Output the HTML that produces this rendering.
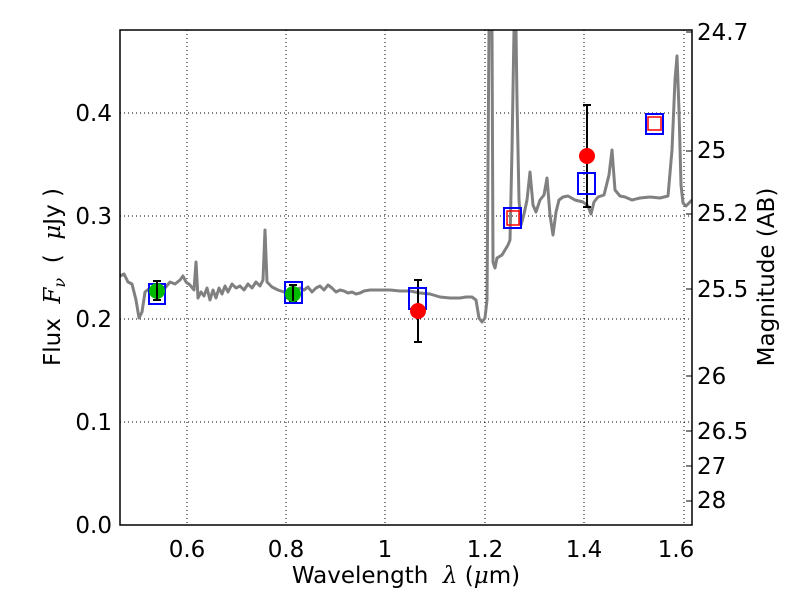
<!DOCTYPE html>
<html><head><meta charset="utf-8"><style>
body{margin:0;background:#fff}
svg text{font-family:"DejaVu Sans","Liberation Sans",sans-serif;fill:#000}
</style></head><body>
<svg width="800" height="600" xmlns="http://www.w3.org/2000/svg">
<rect width="800" height="600" fill="#fff"/>
<defs><clipPath id="c"><rect x="120" y="30" width="572" height="495"/></clipPath></defs>
<g stroke="#000" stroke-width="1" stroke-dasharray="1,3" fill="none">
<line x1="187" y1="30" x2="187" y2="525"/><line x1="286" y1="30" x2="286" y2="525"/>
<line x1="385" y1="30" x2="385" y2="525"/><line x1="485" y1="30" x2="485" y2="525"/>
<line x1="584" y1="30" x2="584" y2="525"/><line x1="684" y1="30" x2="684" y2="525"/>
<line x1="120" y1="422" x2="692" y2="422"/><line x1="120" y1="319" x2="692" y2="319"/>
<line x1="120" y1="216" x2="692" y2="216"/><line x1="120" y1="113" x2="692" y2="113"/>
</g>
<g clip-path="url(#c)">
<polyline fill="none" stroke="#808080" stroke-width="3" stroke-linejoin="round" points="120,276 124,274 128,282 132,284 136,300 139,318 142,312 145,292 150,288 155,290 160,286 165,288 170,282 175,284 180,280 183,276 186,282 190,285 194,290 196,262 198,298 201,292 204,296 207,288 210,300 213,290 216,298 219,288 222,294 225,286 228,292 232,284 236,288 240,286 244,290 248,284 252,288 256,282 260,286 263,280 265,230 267,282 272,287 278,290 284,292 290,290 293,302 296,290 300,288 304,290 308,287 312,292 316,288 320,286 324,290 328,285 332,288 336,292 340,290 344,291 348,293 352,292 356,294 360,293 364,291 370,290 380,290 390,290 400,291 410,291 420,293 430,294 440,297 450,298 460,298 466,297 472,297 476,300 479,318 482,322 485,318 487,300 489,30 491,30 492,30 493,262 495,268 497,258 502,255 505,250 508,245 510,240 512,150 514,30 516,30 517,100 519,200 521,225 524,214 527,200 530,172 533,205 536,212 540,200 544,195 547,178 550,215 553,235 556,212 559,200 563,197 568,196 575,200 583,202 588,206 591,214 594,202 598,197 604,195 609,175 612,150 615,190 620,196 625,197 632,200 640,198 650,197 660,198 668,196 672,150 675,80 677,56 679,110 681,185 683,203 686,206 690,202 692,200"/>
</g>
<g stroke="#000" stroke-width="2">
<line x1="157" y1="281" x2="157" y2="300"/><line x1="153" y1="281" x2="161" y2="281"/><line x1="153" y1="300" x2="161" y2="300"/>
<line x1="293" y1="285" x2="293" y2="301"/><line x1="289" y1="285" x2="297" y2="285"/><line x1="289" y1="301" x2="297" y2="301"/>
<line x1="418" y1="280" x2="418" y2="342"/><line x1="414" y1="280" x2="422" y2="280"/><line x1="414" y1="342" x2="422" y2="342"/>
<line x1="587" y1="105" x2="587" y2="207"/><line x1="583" y1="105" x2="591" y2="105"/><line x1="583" y1="207" x2="591" y2="207"/>
</g>
<g fill="none" stroke="#0000ff" stroke-width="2">
<rect x="149" y="284" width="16" height="20"/><rect x="285" y="282" width="17" height="21"/>
<rect x="409" y="288" width="17" height="21"/><rect x="504" y="208" width="17" height="20"/>
<rect x="578" y="173" width="17" height="21"/><rect x="646" y="114" width="17" height="20"/>
</g>
<g fill="none" stroke="#ff0000" stroke-width="1.5">
<rect x="507" y="211" width="12" height="14"/><rect x="648" y="117" width="13" height="13"/>
</g>
<circle cx="157" cy="291" r="8" fill="#00bb00"/><circle cx="293" cy="294" r="8" fill="#00bb00"/>
<circle cx="418" cy="311" r="8" fill="#ff0000"/><circle cx="587" cy="156" r="8" fill="#ff0000"/>
<g stroke="#000" stroke-width="2">
<line x1="157" y1="281" x2="157" y2="300"/><line x1="293" y1="285" x2="293" y2="301"/>
</g>
<rect x="120" y="30" width="572" height="495" fill="none" stroke="#000" stroke-width="1.5"/>
<g stroke="#000" stroke-width="1">
<line x1="692" y1="32" x2="686" y2="32"/><line x1="692" y1="151" x2="686" y2="151"/>
<line x1="692" y1="214" x2="686" y2="214"/><line x1="692" y1="289" x2="686" y2="289"/>
<line x1="692" y1="376" x2="686" y2="376"/><line x1="692" y1="431" x2="686" y2="431"/>
<line x1="692" y1="466" x2="686" y2="466"/><line x1="692" y1="501" x2="686" y2="501"/>
</g>
<g font-size="23" text-anchor="middle">
<text x="187" y="557">0.6</text><text x="286" y="557">0.8</text><text x="385" y="557">1</text>
<text x="485" y="557">1.2</text><text x="584" y="557">1.4</text><text x="676" y="557">1.6</text>
</g>
<g font-size="23" text-anchor="end">
<text x="112" y="533">0.0</text><text x="112" y="430">0.1</text><text x="112" y="327">0.2</text>
<text x="112" y="224">0.3</text><text x="112" y="121">0.4</text>
</g>
<g font-size="23">
<text x="697" y="40">24.7</text><text x="697" y="158">25</text><text x="697" y="221">25.2</text>
<text x="697" y="297">25.5</text><text x="697" y="384">26</text><text x="697" y="439">26.5</text>
<text x="697" y="474">27</text><text x="697" y="508">28</text>
</g>
<text x="406" y="583" font-size="23" text-anchor="middle" xml:space="preserve">Wavelength  <tspan font-style="italic" font-family="DejaVu Serif,serif">λ</tspan> (<tspan font-style="italic" font-family="DejaVu Serif,serif">μ</tspan>m)</text>
<text transform="translate(60,277) rotate(-90)" font-size="23" text-anchor="middle" xml:space="preserve">Flux  <tspan font-style="italic" font-family="DejaVu Serif,serif">F</tspan><tspan font-style="italic" font-size="16" dy="5" font-family="DejaVu Serif,serif">ν</tspan><tspan dy="-5">  (  </tspan><tspan font-style="italic" font-family="DejaVu Serif,serif">μ</tspan>Jy )</text>
<text transform="translate(774,277) rotate(-90)" font-size="23" text-anchor="middle">Magnitude (AB)</text>
</svg>
</body></html>
